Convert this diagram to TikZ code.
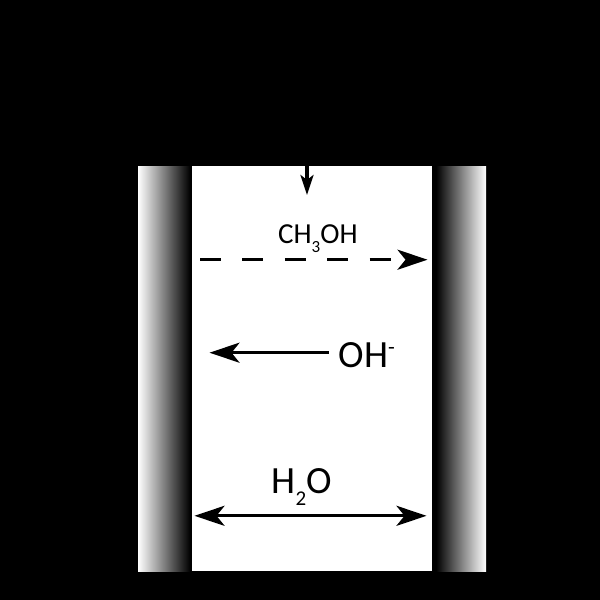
\documentclass[tikz,border=0pt]{standalone}
\usepackage{fontspec}
\setmainfont{Carlito}
\usetikzlibrary{arrows.meta}
\newcommand{\lowered}[3]{\raisebox{-#1pt}{\fontsize{#2}{#2}\selectfont #3}}
\tikzset{
  x=1pt,y=-1pt,
  wall/.style={draw=none},
  label text/.style={anchor=base west,inner sep=0pt,text=black},
  flow/.style={line width=3.3pt,draw=black},
  bigtip/.tip={Stealth[length=30pt,width=20pt,inset=8pt]},
  smalltip/.tip={Stealth[length=20pt,width=13pt,inset=5pt]},
}
\begin{document}
\begin{tikzpicture}
\useasboundingbox (0,0) rectangle (600,600);
\fill[black] (0,0) rectangle (600,600);
\fill[white] (192,166) rectangle (432,571);
\shade[wall,left color=white,right color=black] (138,166) rectangle (190,571);
\shade[wall,left color=black,right color=white] (436,166) rectangle (486,571);
% connector ends
\coordinate (inTop) at (307,160);
\coordinate (inTip) at (307,195);
\coordinate (mL) at (200,259.7);
\coordinate (mR) at (427.5,259.7);
\coordinate (oTail) at (328.5,352.7);
\coordinate (oTip) at (209.5,352.7);
\coordinate (wL) at (194.5,515.8);
\coordinate (wR) at (426.5,515.8);
% connectors
\draw[flow,-{smalltip}] (inTop) -- (inTip);
\draw[flow,dash pattern=on 21pt off 21.4pt,-{bigtip}] (mL) -- (mR);
\draw[flow,-{bigtip}] (oTail) -- (oTip);
\draw[flow,{bigtip}-{bigtip}] (wL) -- (wR);
% labels
\node[label text,font=\fontsize{29}{32}\selectfont] (meth) at (278,243) {CH\lowered{9}{17}{3}OH};
\node[label text,font=\fontsize{38.5}{42}\selectfont] (hydrox) at (338.5,367) {OH\raisebox{13pt}{\fontsize{22}{22}\selectfont -}};
\node[label text,font=\fontsize{38.5}{42}\selectfont] (water) at (271.5,493) {H\lowered{12}{21}{2}O};
\end{tikzpicture}
\end{document}
